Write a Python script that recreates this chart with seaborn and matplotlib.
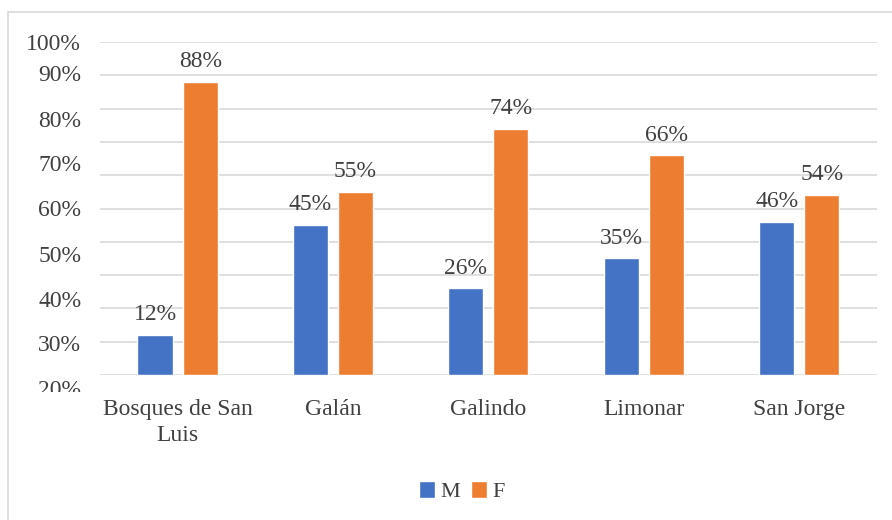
import numpy as np
import pandas as pd
import matplotlib as mpl
import matplotlib.pyplot as plt
import seaborn as sns
from matplotlib.patches import Patch, Rectangle
from matplotlib.transforms import Bbox, TransformedBbox

# datos
barrios = ['Bosques de San\nLuis', 'Galán', 'Galindo', 'Limonar', 'San Jorge']
hombres = [12, 45, 26, 35, 46]
mujeres = [88, 55, 74, 66, 54]
etiquetas_y = ['100%', '90%', '80%', '70%', '60%', '50%', '40%', '30%', '20%']

df = pd.DataFrame({
    'barrio': barrios * 2,
    'sexo': ['M'] * len(barrios) + ['F'] * len(barrios),
    'pct': hombres + mujeres,
})

sns.set_style('white')
mpl.rcParams['font.family'] = ['Liberation Serif', 'DejaVu Serif']
gris = '#404040'
azul, naranja = '#4472C4', '#ED7D31'

fig = plt.figure(figsize=(8.92, 5.2), dpi=100)
ax = fig.add_axes([0.112, 0.279, 0.871, 0.640])

sns.barplot(data=df, x='barrio', y='pct', hue='sexo', palette=[azul, naranja],
            width=0.58, gap=0.22, saturation=1, errorbar=None, legend=False, ax=ax)

ax.set_ylim(0, 100)
ax.set_xlim(-0.5, 4.5)
ax.set_yticks(np.arange(0, 101, 10))
ax.set_yticklabels([])
ax.tick_params(axis='y', length=0)
ax.tick_params(axis='x', length=0, pad=17, labelsize=17, labelcolor=gris)
for lbl in ax.get_xticklabels():
    lbl.set_linespacing(1.35)
ax.grid(axis='y', color='#D9D9D9', linewidth=1.2)
ax.set_axisbelow(True)
for s in ax.spines.values():
    s.set_visible(False)
ax.set_xlabel('')
ax.set_ylabel('')

for cont in ax.containers:
    ax.bar_label(cont, labels=[f'{v:.0f}%' for v in cont.datavalues],
                 padding=7, fontsize=17, color=gris)

# etiquetas del eje y (desplazadas como en el original)
pos_y = [99.4, 90.1, 76.2, 63.0, 49.5, 35.7, 22.2, 8.7, -4.8]
recorte = TransformedBbox(Bbox([[0, 1 - 392 / 520], [1, 1]]), fig.transFigure)
for txt, y in zip(etiquetas_y, pos_y):
    t = ax.text(-0.024, y, txt, transform=ax.get_yaxis_transform(),
                ha='right', va='center', fontsize=17, color=gris, clip_on=True)
    t.set_clip_box(recorte)

# leyenda
handles = [Patch(facecolor=azul, label='M'), Patch(facecolor=naranja, label='F')]
fig.legend(handles=handles, loc='center', bbox_to_anchor=(0.518, 0.054), ncol=2,
           frameon=False, fontsize=16, labelcolor=gris, handlelength=0.7,
           handleheight=0.75, handletextpad=0.25, columnspacing=0.5)

# borde del gráfico
fig.patches.append(Rectangle((8 / 892, -0.1), 1.2, 1 - 12 / 520 + 0.1,
                             transform=fig.transFigure, fill=False,
                             edgecolor='#D9D9D9', linewidth=1.2))

fig.savefig('out.png', dpi=100)
